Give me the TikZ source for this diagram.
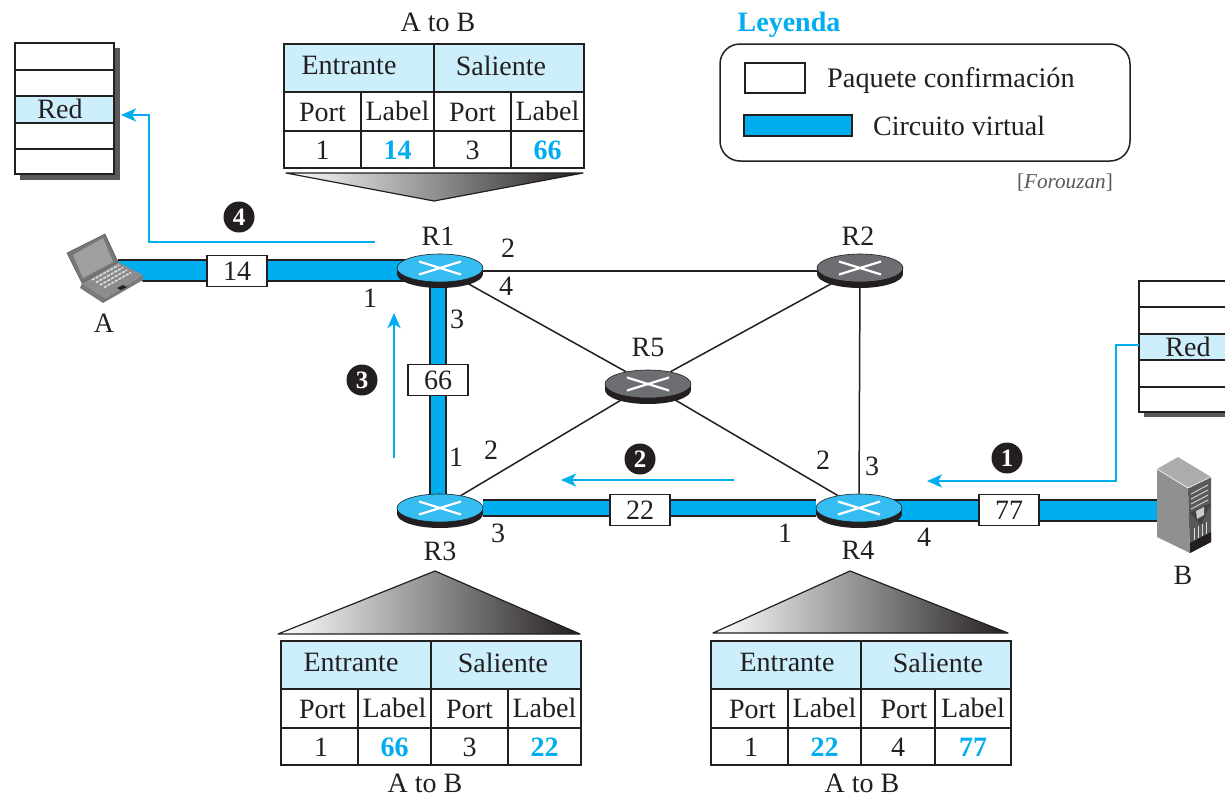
\documentclass[tikz,border=0pt]{standalone}
\usepackage{fontspec}
\setmainfont{Liberation Serif}
\usetikzlibrary{arrows.meta,shapes.geometric,backgrounds,calc}
\definecolor{ink}{HTML}{231F20}
\definecolor{cblue}{HTML}{00AEEF}
\definecolor{lblue}{HTML}{CCEFFB}
\definecolor{rblue}{HTML}{35BDF2}
\definecolor{rgrey}{HTML}{6D6E71}
\definecolor{shad}{HTML}{58595B}
\definecolor{lapg}{HTML}{8A8C8E}
\definecolor{srvg}{HTML}{8F9092}
\tikzset{
  txt/.style={inner sep=0pt,font=\fontsize{28}{30}\selectfont,text=ink},
  basetxt/.style={txt,anchor=base},
  bluenum/.style={basetxt,font=\fontsize{28}{30}\selectfont\bfseries,text=cblue},
  cell/.style={draw=ink,line width=1.6pt},
  labbox/.style={draw=ink,line width=1.6pt,fill=white,minimum width=60pt,minimum height=31pt,inner sep=0pt,font=\fontsize{28}{30}\selectfont,text=ink},
  stepdot/.style={circle,fill=ink,minimum size=31pt,inner sep=0pt,text=white,font=\fontsize{25}{25}\selectfont\bfseries},
  bluearrow/.style={draw=cblue,line width=2.6pt,-{Stealth[length=15pt,width=13pt,inset=4pt]}},
  thinlink/.style={draw=ink,line width=1.5pt},
  rtop/.style={ellipse,draw=ink,line width=0.6pt,minimum width=86pt,minimum height=28pt,inner sep=0pt},
  rbase/.style={ellipse,fill=ink,minimum width=86pt,minimum height=28pt,inner sep=0pt},
}
% router: name, x, y, colour
\newcommand{\myrouter}[4]{%
  \fill[ink] ({#2-43},#3) rectangle ({#2+43},{#3+6});
  \node[rbase] at (#2,{#3+6}) {};
  \node[rtop,fill=#4] (#1) at (#2,#3) {};
  \draw[white,line width=2.2pt] ({#2-21},{#3-6.5}) -- ({#2+21},{#3+6.5});
  \draw[white,line width=2.2pt] ({#2-21},{#3+6.5}) -- ({#2+21},{#3-6.5});
}
% table: name x0 x1 x2 x3 x4 y0, then hx1 hx2 lab1 port lab2
\newcommand{\mytable}[7]{%
  \def\tn{#1}\def\xa{#2}\def\xb{#3}\def\xc{#4}\def\xd{#5}\def\xe{#6}\def\ya{#7}%
  \mytableB}
\newcommand{\mytableB}[5]{%
  \fill[lblue] (\xa,\ya) rectangle (\xe,{\ya+48});
  \draw[cell] (\xa,\ya) rectangle (\xe,{\ya+124});
  \draw[cell] (\xa,{\ya+48}) -- (\xe,{\ya+48});
  \draw[cell] (\xa,{\ya+87}) -- (\xe,{\ya+87});
  \draw[cell] (\xc,\ya) -- (\xc,{\ya+124});
  \draw[cell] (\xb,{\ya+48}) -- (\xb,{\ya+124});
  \draw[cell] (\xd,{\ya+48}) -- (\xd,{\ya+124});
  \node[basetxt] (\tn e) at (#1,{\ya+30}) {Entrante};
  \node[basetxt] (\tn s) at (#2,{\ya+31}) {Saliente};
  \node[basetxt] (\tn pa) at ({(\xa+\xb)/2+\pas},{\ya+77}) {Port};
  \node[basetxt] (\tn la) at ({(\xb+\xc)/2},{\ya+76}) {Label};
  \node[basetxt] (\tn pb) at ({(\xc+\xd)/2+\pbs},{\ya+77}) {Port};
  \node[basetxt] (\tn lb) at ({(\xd+\xe)/2},{\ya+76}) {Label};
  \node[basetxt] (\tn a) at ({(\xa+\xb)/2+\pas/2},{\ya+115}) {1};
  \node[bluenum] (\tn b) at ({(\xb+\xc)/2},{\ya+115}) {#3};
  \node[basetxt] (\tn c) at ({(\xc+\xd)/2},{\ya+115}) {#4};
  \node[bluenum] (\tn d) at ({(\xd+\xe)/2},{\ya+115}) {#5};
}
\begin{document}
\begin{tikzpicture}[x=1pt,y=-1pt,line join=miter]
\useasboundingbox (0,0) rectangle (1225,798);

% end points of the access links
\coordinate (a) at (118,270);
\coordinate (b) at (1165,510);

% routers
\myrouter{r1}{440}{268}{rblue}
\myrouter{r2}{860}{268}{rgrey}
\myrouter{r5}{648}{384}{rgrey}
\myrouter{r3}{440}{508}{rblue}
\myrouter{r4}{859}{508}{rblue}

% label boxes
\node[labbox] (l14) at (237,271) {14};
\node[labbox] (l66) at (438,380) {66};
\node[labbox] (l22) at (640,510) {22};
\node[labbox] (l77) at (1009,510) {77};

% connectors (behind routers and boxes)
\begin{scope}[on background layer]
  \fill[white] (0,0) rectangle (1225,798);
  \draw[thinlink] ([yshift=-3pt]r1.center) -- ([yshift=-3pt]r2.center);
  \draw[thinlink] (r1) -- (r5);
  \draw[thinlink] (r2) -- (r5);
  \draw[thinlink] (r3) -- (r5);
  \draw[thinlink] (r4) -- (r5);
  \draw[thinlink] (r2) -- (r4);
  \draw[ink,line width=23pt] (a) -- (a -| r1);
  \draw[cblue,line width=19pt] (a) -- (a -| r1);
  \draw[ink,line width=18pt] ([xshift=-2pt]r1.center) -- ([xshift=-2pt]r3.center);
  \draw[cblue,line width=14pt] ([xshift=-2pt]r1.center) -- ([xshift=-2pt]r3.center);
  \draw[ink,line width=18pt] (r3) -- (r4);
  \draw[cblue,line width=14pt] (r3) -- (r4);
  \draw[ink,line width=23pt] (b) -- (b -| r4);
  \draw[cblue,line width=19pt] (b) -- (b -| r4);
\end{scope}

% white wedge so the link meets the laptop along its edge
\fill[white] (116,256) -- (116,284) -- (142,284) -- (143,282) -- (118,262) -- cycle;

% laptop
\fill[shad!80] (80,288) -- (103,303) -- (143,280) -- (143,275) -- (105,298) -- (82,283) -- cycle;
\fill[lapg] (82,283) -- (118,262) -- (143,275) -- (105,298) -- cycle;
\fill[lapg!85!black] (67,253) -- (105,234) -- (118,262) -- (82,283) -- cycle;
\fill[gray!75] (73,255) -- (103,238) -- (113,262) -- (83,278) -- cycle;
\draw[shad,line width=0.6pt] (67,253) -- (105,234) -- (118,262) -- (82,283) -- cycle;
\draw[white!80!gray,line width=1.4pt,dash pattern=on 3pt off 1.2pt] (92,280) -- (119,265);
\draw[white!80!gray,line width=1.4pt,dash pattern=on 3pt off 1.2pt] (96,282.5) -- (123,267.5);
\draw[white!80!gray,line width=1.4pt,dash pattern=on 3pt off 1.2pt] (100,285) -- (127,270);
\draw[white!80!gray,line width=1.4pt,dash pattern=on 3pt off 1.2pt] (104,287.5) -- (131,272.5);
\fill[ink] (117,288) -- (123,285) -- (127,287) -- (121,290) -- cycle;

% server
\fill[gray!65] (1157,469) -- (1178,457) -- (1211,477) -- (1188,488) -- cycle;
\fill[srvg] (1157,469) -- (1188,488) -- (1190,553) -- (1157,537) -- cycle;
\fill[shad] (1188,488) -- (1211,477) -- (1211,542) -- (1190,553) -- cycle;
\draw[white,line width=0.6pt] (1157,469) -- (1188,488) -- (1211,477);
\draw[gray!40,line width=1pt] (1191,494) -- (1208,485);
\draw[gray!40,line width=1pt] (1191,499) -- (1208,490);
\draw[gray!40,line width=1pt] (1191,504) -- (1208,495);
\draw[gray!40,line width=1pt] (1191,509) -- (1208,500);
\fill[ink!85] (1190,513) -- (1211,503) -- (1201,525) -- cycle;
\fill[gray!40] (1196,511) -- (1204,507) -- (1204,515) -- (1197,519) -- cycle;
\draw[gray!30,line width=0.8pt] (1194,528) -- (1194,540);
\draw[gray!30,line width=0.8pt] (1198,526) -- (1198,538);
\draw[gray!30,line width=0.8pt] (1202,524) -- (1202,536);
\draw[gray!30,line width=0.8pt] (1206,522) -- (1206,534);
\fill[ink] (1190,543) -- (1211,532) -- (1211,542) -- (1190,553) -- cycle;

% text of hosts and routers
\node[txt] (ta) at (104,323) {A};
\node[txt] (tb) at (1183,575) {B};
\node[txt] (t1) at (438,236) {R1};
\node[txt] (t2) at (858,236) {R2};
\node[txt] (t5) at (648,347) {R5};
\node[txt] (t3) at (440,551) {R3};
\node[txt] (t4) at (858,550) {R4};

% port numbers
\node[txt] (p12) at (508,248) {2};
\node[txt] (p14) at (506,286) {4};
\node[txt] (p13) at (457,319) {3};
\node[txt] (p11) at (370,298) {1};
\node[txt] (p31) at (456,457) {1};
\node[txt] (p32) at (491,450) {2};
\node[txt] (p33) at (498,533) {3};
\node[txt] (p41) at (785,533) {1};
\node[txt] (p42) at (823,460) {2};
\node[txt] (p43) at (872,466) {3};
\node[txt] (p44) at (924,537) {4};

% routing tables at the hosts
\fill[shad] (20,48) rectangle (120,180);
\fill[white] (15,43) rectangle (114,174);
\fill[lblue] (15,96) rectangle (114,123);
\draw[cell] (15,43) rectangle (114,174);
\draw[cell] (15,70) -- (114,70);
\draw[cell] (15,96) -- (114,96);
\draw[cell] (15,123) -- (114,123);
\draw[cell] (15,149) -- (114,149);
\node[txt] (redA) at (60,109) {Red};

\fill[shad] (1144,286) rectangle (1225,417);
\fill[white] (1139,281) rectangle (1225,412);
\fill[lblue] (1139,334) rectangle (1225,360);
\draw[cell] (1225,281) -- (1139,281) -- (1139,412) -- (1225,412);
\draw[cell] (1139,307) -- (1225,307);
\draw[cell] (1139,334) -- (1225,334);
\draw[cell] (1139,360) -- (1225,360);
\draw[cell] (1139,387) -- (1225,387);
\node[txt] (redB) at (1188,347) {Red};

% blue arrows
\coordinate (s4) at (375,242);
\coordinate (e4) at (121,115);
\coordinate (s3) at (394,458);
\coordinate (e3) at (394,313);
\coordinate (s2) at (734,480);
\coordinate (e2) at (561,480);
\coordinate (e1) at (927,481);
\draw[bluearrow] (s4) -- (149,242) -- (149,115) -- (e4);
\draw[bluearrow] (s3) -- (e3);
\draw[bluearrow] (s2) -- (e2);
\draw[bluearrow] (1139,345) -- (1116,345) -- (1116,481) -- (e1);

\node[stepdot] (n4) at (239,217) {4};
\node[stepdot] (n3) at (362,380) {3};
\node[stepdot] (n2) at (640,459) {2};
\node[stepdot] (n1) at (1007,458) {1};

% tables
\node[txt] (ab1) at (438,22) {A to B};
\def\pas{0}\def\pbs{0}
\mytable{ta}{284}{361}{434}{511}{584}{44}{349}{501}{14}{3}{66}
\shade[left color=white,right color=ink] (286,173) -- (583,173) -- (434,201) -- cycle;
\draw[ink,line width=1.2pt,line join=round] (286,173) -- (583,173) -- (434,201) -- cycle;

\shade[left color=white,right color=ink] (278,634) -- (435,571) -- (580,634) -- cycle;
\draw[ink,line width=1.2pt,line join=round] (278,634) -- (435,571) -- (580,634) -- cycle;
\def\pas{3}\def\pbs{0}
\mytable{tc}{281}{358}{431}{508}{581}{641}{351}{503}{66}{3}{22}
\node[txt] (ab3) at (425,783) {A to B};

\shade[left color=white,right color=ink] (713,633) -- (850,571) -- (1008,633) -- cycle;
\draw[ink,line width=1.2pt,line join=round] (713,633) -- (850,571) -- (1008,633) -- cycle;
\def\pas{3}\def\pbs{6}
\mytable{td}{711}{788}{861}{935}{1011}{641}{787}{938}{22}{4}{77}
\node[txt] (ab4) at (862,783) {A to B};

% legend
\node[basetxt,font=\fontsize{28}{30}\selectfont\bfseries,text=cblue] (leg) at (789,31) {Leyenda};
\node[draw=ink,line width=1.5pt,rounded corners=20pt,minimum width=410pt,minimum height=117pt,inner sep=0pt] (legbox) at (925,102.5) {};
\node[draw=ink,line width=1.5pt,fill=white,minimum width=60pt,minimum height=30pt,inner sep=0pt] (legw) at (775,78) {};
\node[draw=ink,line width=2.5pt,fill=cblue,minimum width=108pt,minimum height=21pt,inner sep=0pt] (legb) at (798,125.5) {};
\node[txt,anchor=base west,font=\fontsize{28.3}{30}\selectfont] (lt1) at (827,87) {Paquete confirmación};
\node[txt,anchor=base west] (lt2) at (873,135) {Circuito virtual};
\node[inner sep=0pt,anchor=base east,font=\fontsize{21.2}{23}\selectfont,text=shad] (fz) at (1113,188) {[\textit{Forouzan}]};
\end{tikzpicture}
\end{document}
